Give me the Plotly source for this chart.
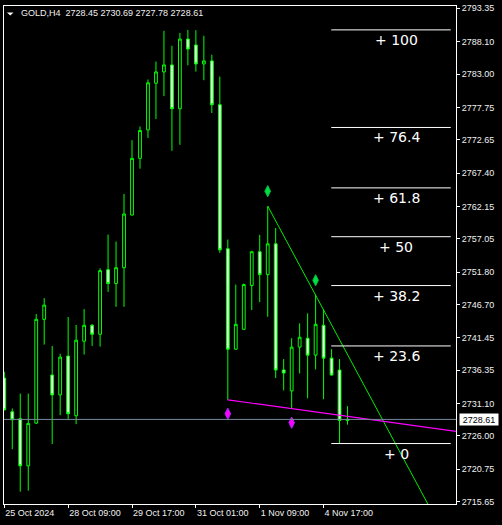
import plotly.graph_objects as go

# ---- data ----
BAR = list(range(44))
OPEN = [2735.13, 2729.81, 2728.72, 2721.30, 2728.03, 2744.37, 2735.60, 2732.47,
        2738.58, 2729.19, 2740.92, 2743.43, 2742.02, 2752.19, 2750.00, 2752.50,
        2760.80, 2769.72, 2774.20, 2781.55, 2783.33, 2784.43, 2777.54, 2788.50,
        2787.56, 2784.59, 2785.06, 2778.17, 2755.48, 2739.67, 2742.80, 2749.69,
        2755.01, 2751.41, 2756.26, 2736.39, 2733.10, 2739.99, 2741.39, 2738.73,
        2743.43, 2738.26, 2736.39, 2728.45]
HIGH = [2736.12, 2730.33, 2732.68, 2732.68, 2745.20, 2747.70, 2740.19, 2738.94,
        2744.73, 2743.48, 2745.98, 2743.63, 2752.40, 2757.72, 2756.62, 2764.13,
        2772.58, 2774.73, 2782.13, 2784.95, 2789.80, 2787.45, 2789.48, 2789.95,
        2789.90, 2789.02, 2786.04, 2782.60, 2756.93, 2749.84, 2750.00, 2755.17,
        2757.67, 2762.21, 2758.76, 2738.11, 2741.39, 2743.74, 2745.31, 2748.28,
        2745.93, 2739.67, 2738.11, 2730.69]
LOW = [2730.02, 2723.91, 2717.23, 2717.39, 2727.90, 2740.39, 2724.74, 2729.28,
       2728.50, 2727.87, 2738.83, 2740.19, 2740.08, 2748.69, 2746.34, 2746.34,
       2760.70, 2768.09, 2772.94, 2775.92, 2779.52, 2770.91, 2771.85, 2784.37,
       2783.38, 2782.02, 2776.86, 2754.85, 2731.69, 2739.60, 2742.75, 2745.82,
       2747.07, 2744.77, 2735.13, 2733.19, 2730.28, 2735.85, 2731.94, 2736.48,
       2731.79, 2735.50, 2724.81, 2727.78]
CLOSE = [2730.13, 2728.56, 2721.30, 2727.98, 2744.37, 2746.61, 2732.47, 2738.42,
         2729.50, 2741.08, 2743.43, 2742.02, 2752.04, 2750.00, 2752.50, 2760.96,
         2769.72, 2774.10, 2781.61, 2783.33, 2784.43, 2777.54, 2788.50, 2786.93,
         2784.59, 2785.06, 2778.17, 2755.32, 2739.67, 2743.58, 2749.84, 2755.01,
         2751.41, 2756.26, 2736.39, 2735.92, 2739.99, 2741.55, 2738.73, 2743.58,
         2738.26, 2735.60, 2728.45, 2728.61]
LAST_PRICE = 2728.61

X_TICKS = [0, 8, 16, 24, 32, 40]
X_LABELS = ["25 Oct 2024", "28 Oct 09:00", "29 Oct 17:00", "31 Oct 01:00",
            "1 Nov 09:00", "4 Nov 17:00"]
Y_TICKS = [2793.35, 2788.10, 2783.00, 2777.75, 2772.65, 2767.40, 2762.15, 2757.05,
           2751.80, 2746.70, 2741.45, 2736.35, 2731.10, 2726.00, 2720.75, 2715.65]

FIB_NAMES = ["100", "76.4", "61.8", "50", "38.2", "23.6", "0"]
FIB_PRICES = [2789.95, 2774.58, 2765.07, 2757.38, 2749.69, 2740.18, 2724.81]

TREND_HI_X = [33, 60]
TREND_HI_Y = [2762.21, 2699.06]
TREND_LO_X = [28, 57]
TREND_LO_Y = [2731.69, 2726.66]

FRACTAL_UP_X = [33, 39]
FRACTAL_UP_Y = [2764.55, 2750.52]
FRACTAL_DN_X = [28, 36]
FRACTAL_DN_Y = [2729.50, 2728.09]

# ---- style ----
LIME = "#00ff00"
FG = "#ffffff"
TXT = "#f0f0f0"
FONT = "Liberation Sans, Arial, sans-serif"

fig = go.Figure()

fig.add_trace(go.Candlestick(
    x=BAR, open=OPEN, high=HIGH, low=LOW, close=CLOSE,
    increasing=dict(line=dict(color=LIME, width=1), fillcolor="#000000"),
    decreasing=dict(line=dict(color=LIME, width=1), fillcolor="#ffffff"),
    whiskerwidth=0, showlegend=False, hoverinfo="skip",
))

# trend lines
fig.add_trace(go.Scatter(x=TREND_HI_X, y=TREND_HI_Y, mode="lines",
                         line=dict(color="#00ee00", width=1),
                         showlegend=False, hoverinfo="skip"))
fig.add_trace(go.Scatter(x=TREND_LO_X, y=TREND_LO_Y, mode="lines",
                         line=dict(color="#ff00ff", width=1.2),
                         showlegend=False, hoverinfo="skip"))

# fractal diamonds
fig.add_trace(go.Scatter(x=FRACTAL_UP_X, y=FRACTAL_UP_Y, mode="markers",
                         marker=dict(symbol="diamond-tall", size=8, color="#00e040",
                                     line=dict(color="#00c040", width=1)),
                         showlegend=False, hoverinfo="skip"))
fig.add_trace(go.Scatter(x=FRACTAL_DN_X, y=FRACTAL_DN_Y, mode="markers",
                         marker=dict(symbol="diamond-tall", size=8, color="#ff00ff",
                                     line=dict(color="#b020ff", width=1)),
                         showlegend=False, hoverinfo="skip"))

# fibonacci levels
for name, price in zip(FIB_NAMES, FIB_PRICES):
    fig.add_shape(type="line", x0=40.96, x1=55.93, y0=price, y1=price,
                  line=dict(color=FG, width=1))
    fig.add_annotation(x=49.1, y=price, text="+ " + name, showarrow=False,
                       xanchor="center", yanchor="middle", yshift=-10,
                       font=dict(family="DejaVu Sans", size=14, color=FG))

# current price line + label
fig.add_shape(type="line", xref="paper", x0=0, x1=1, y0=LAST_PRICE, y1=LAST_PRICE,
              line=dict(color="#778899", width=1))
fig.add_annotation(xref="paper", x=1.0066, y=LAST_PRICE, text=f"{LAST_PRICE:.2f}",
                   showarrow=False, xanchor="left", yanchor="middle",
                   bgcolor="#ffffff", width=38, height=11, borderpad=0,
                   font=dict(family=FONT, size=9, color="#000000"))

# header
fig.add_shape(type="path", xref="paper", yref="paper",
              path="M 0.0066,0.9870 L 0.0210,0.9870 L 0.0138,0.9810 Z",
              fillcolor=FG, line=dict(color=FG, width=0))
fig.add_annotation(xref="paper", yref="paper", x=0.0331, y=0.9855,
                   text="GOLD,H4\u00a0\u00a0" + " ".join(f"{v:.2f}" for v in
                        [OPEN[-1], HIGH[-1], LOW[-1], CLOSE[-1]]),
                   showarrow=False, xanchor="left", yanchor="middle",
                   font=dict(family=FONT, size=9, color=TXT))

axis_common = dict(
    showgrid=False, zeroline=False, showline=True, linecolor=FG, linewidth=1,
    mirror=True, ticks="outside", ticklen=3, tickcolor=FG, tickwidth=1,
    tickfont=dict(family=FONT, size=9, color=TXT), fixedrange=True,
)

fig.update_layout(
    width=502, height=525,
    margin=dict(l=3, r=46, t=3, b=21),
    paper_bgcolor="#000000", plot_bgcolor="#000000",
    boxgap=0.5, showlegend=False,
    xaxis=dict(range=[-0.0375, 56.5875], tickvals=X_TICKS, ticktext=X_LABELS,
               ticklabelposition="outside right", rangeslider=dict(visible=False),
               **axis_common),
    yaxis=dict(range=[2715.29, 2793.71], side="right", tickvals=Y_TICKS,
               ticktext=[f"{v:.2f}" for v in Y_TICKS], **axis_common),
)

# the page body has a default 8px margin; drop it so the chart sits at 0,0
fig.write_html("out.html", config={"displayModeBar": False},
               post_script="document.body.style.margin='0';")
